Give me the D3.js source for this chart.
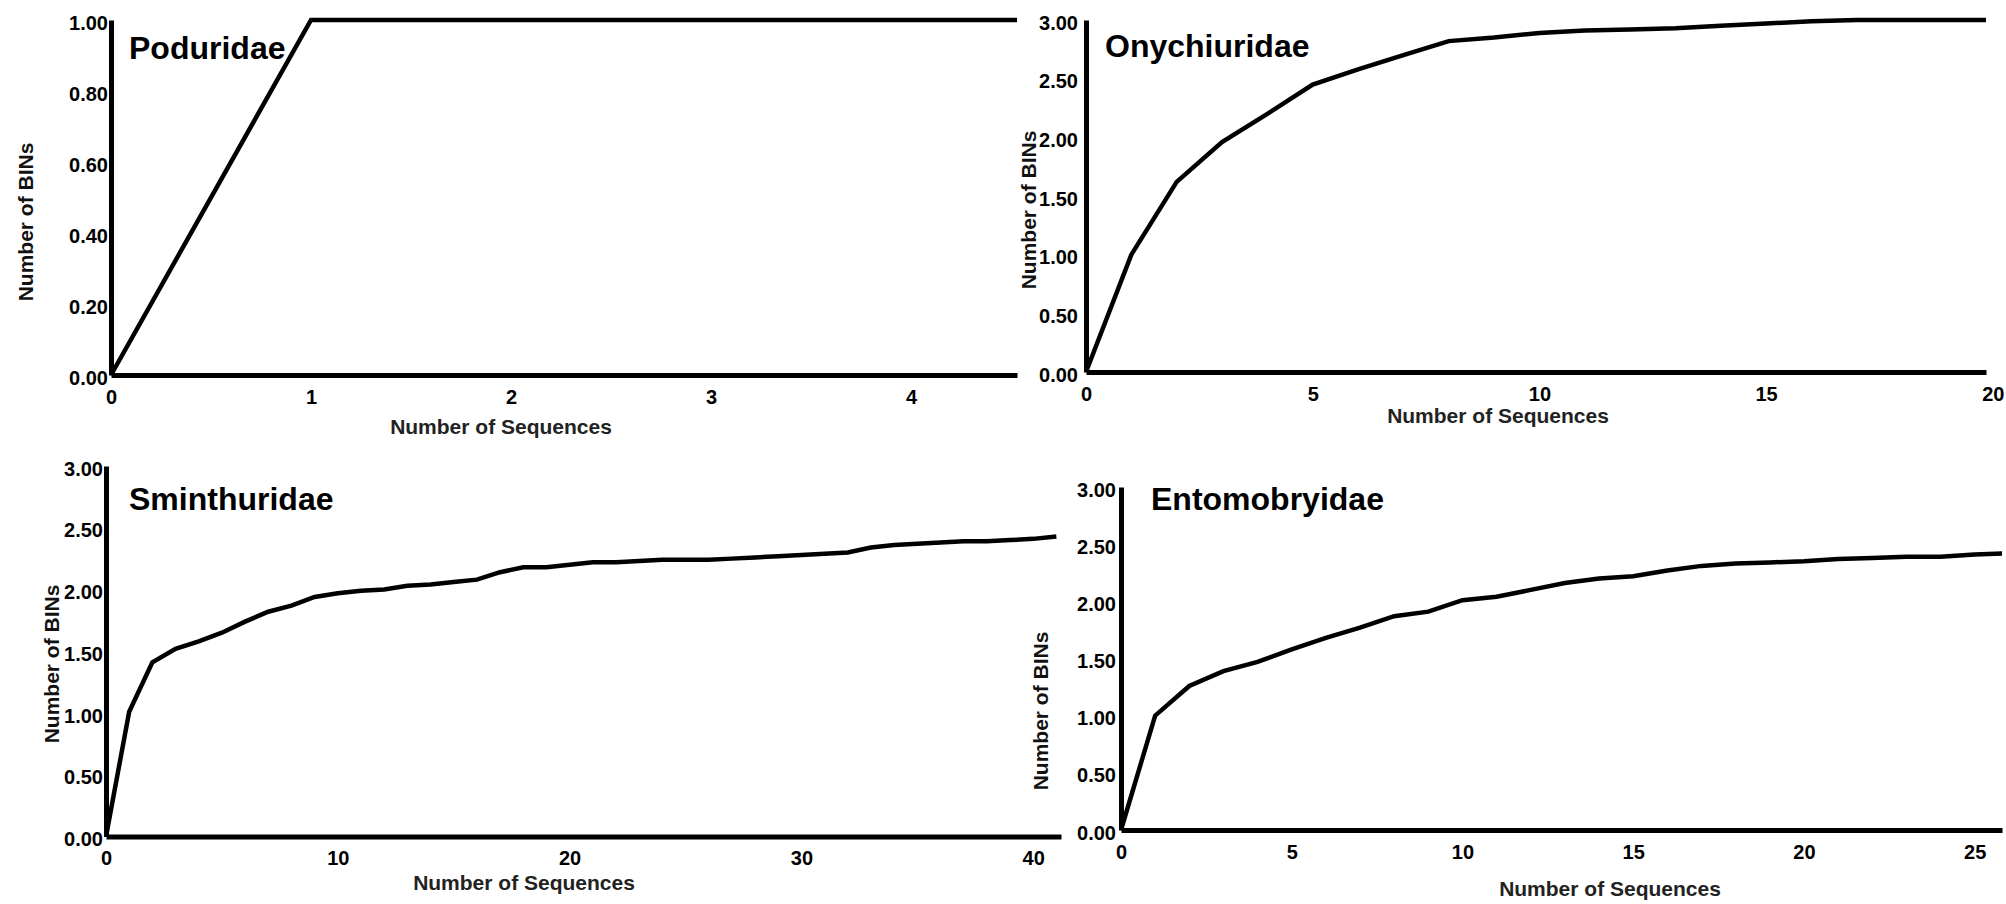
<!DOCTYPE html>
<html>
<head>
<meta charset="utf-8">
<script src="https://cdn.jsdelivr.net/npm/d3@7"></script>
<style>
  html, body { margin: 0; padding: 0; background: #fff; }
  svg { display: block; font-family: "Liberation Sans", Arial, Helvetica, sans-serif; }
</style>
</head>
<body>
<svg id="chart" width="2006" height="904"></svg>
<script>
// Rarefaction curves: number of BINs against number of sequences, per family.
const families = ["Poduridae", "Onychiuridae", "Sminthuridae", "Entomobryidae"];

const poduridaeSeqs = [0, 1, 2, 3, 4, 5];
const poduridaeBins = [0, 1.00, 1.00, 1.00, 1.00, 1.00];

const onychiuridaeSeqs = [0, 1, 2, 3, 4, 5, 6, 7, 8, 9, 10, 11, 12, 13, 14, 15, 16, 17, 18, 19, 20];
const onychiuridaeBins = [0, 1.00, 1.62, 1.96, 2.20, 2.45, 2.58, 2.70, 2.82, 2.85, 2.89, 2.91, 2.92, 2.93,
                          2.95, 2.97, 2.99, 3.00, 3.00, 3.00, 3.00];

const sminthuridaeSeqs = [0, 1, 2, 3, 4, 5, 6, 7, 8, 9, 10, 11, 12, 13, 14, 15, 16, 17, 18, 19, 20,
                          21, 22, 23, 24, 25, 26, 27, 28, 29, 30, 31, 32, 33, 34, 35, 36, 37, 38, 39, 40, 41];
const sminthuridaeBins = [0, 1.01, 1.41, 1.52, 1.58, 1.65, 1.74, 1.82, 1.87, 1.94, 1.97, 1.99, 2.00, 2.03,
                          2.04, 2.06, 2.08, 2.14, 2.18, 2.18, 2.20, 2.22, 2.22, 2.23, 2.24, 2.24, 2.24, 2.25,
                          2.26, 2.27, 2.28, 2.29, 2.30, 2.34, 2.36, 2.37, 2.38, 2.39, 2.39, 2.40, 2.41, 2.43];

const entomobryidaeSeqs = [0, 1, 2, 3, 4, 5, 6, 7, 8, 9, 10, 11, 12, 13, 14, 15, 16, 17, 18, 19, 20,
                           21, 22, 23, 24, 25, 26];
const entomobryidaeBins = [0, 1.00, 1.26, 1.39, 1.47, 1.58, 1.68, 1.77, 1.87, 1.91, 2.01, 2.04, 2.10, 2.16,
                           2.20, 2.22, 2.27, 2.31, 2.33, 2.34, 2.35, 2.37, 2.38, 2.39, 2.39, 2.41, 2.42];

// Axis extents and tick values
const xMaxes = [4.53, 19.85, 41.2, 25.8];
const yMaxes = [1, 3, 3, 3];
const xTickValues = [
  [0, 1, 2, 3, 4],
  [0, 5, 10, 15, 20],
  [0, 10, 20, 30, 40],
  [0, 5, 10, 15, 20, 25]
];
const yTickValues = [
  [0, 0.2, 0.4, 0.6, 0.8, 1.0],
  [0, 0.5, 1.0, 1.5, 2.0, 2.5, 3.0],
  [0, 0.5, 1.0, 1.5, 2.0, 2.5, 3.0],
  [0, 0.5, 1.0, 1.5, 2.0, 2.5, 3.0]
];
const xAxisTitle = "Number of Sequences";
const yAxisTitle = "Number of BINs";

const seqSeries = [poduridaeSeqs, onychiuridaeSeqs, sminthuridaeSeqs, entomobryidaeSeqs];
const binSeries = [poduridaeBins, onychiuridaeBins, sminthuridaeBins, entomobryidaeBins];

// Panel placement on the page
const layout = [
  { left: 111,  right: 1017, top: 20,  bottom: 375,   yPad: 3, title: [129, 59],   yLab: [25, 222],   xLab: [501, 434] },
  { left: 1086, right: 1986, top: 20,  bottom: 372,   yPad: 8, title: [1105, 57],  yLab: [1028, 210], xLab: [1498, 423] },
  { left: 106,  right: 1061, top: 466, bottom: 836.5, yPad: 3, title: [129, 510],  yLab: [51.5, 664], xLab: [524, 890] },
  { left: 1121, right: 2002, top: 487, bottom: 830,   yPad: 5, title: [1151, 510], yLab: [1040, 711], xLab: [1610, 896] }
];

const svg = d3.select("#chart");
const fmt = d3.format(".2f");

families.forEach((name, i) => {
  const L = layout[i];
  const x = d3.scaleLinear().domain([0, xMaxes[i]]).range([L.left, L.right]);
  const y = d3.scaleLinear().domain([0, yMaxes[i]]).range([L.bottom, L.top]);
  const g = svg.append("g").attr("class", "panel");

  // keep the curve inside the horizontal extent of the axis
  const clipId = "clip" + i;
  svg.append("clipPath").attr("id", clipId)
    .append("rect")
    .attr("x", L.left - 20).attr("y", L.top - 20)
    .attr("width", L.right - L.left + 20).attr("height", L.bottom - L.top + 40);

  const points = seqSeries[i].map((s, k) => [s, binSeries[i][k]]);
  const line = d3.line().x(d => x(d[0])).y(d => y(d[1]));
  g.append("path")
    .datum(points)
    .attr("clip-path", `url(#${clipId})`)
    .attr("d", line)
    .attr("fill", "none")
    .attr("stroke", "#000")
    .attr("stroke-width", 4.5)
    .attr("stroke-linejoin", "miter");

  // x axis
  const xAxis = g.append("g")
    .attr("transform", `translate(0,${L.bottom})`)
    .call(d3.axisBottom(x).tickValues(xTickValues[i]).tickSize(0).tickSizeOuter(0).tickPadding(14.5).tickFormat(d3.format("d")));
  xAxis.select(".domain").attr("stroke", "#000").attr("stroke-width", 5);
  xAxis.selectAll("text")
    .attr("font-size", 20).attr("font-weight", "bold").attr("fill", "#000")
    .attr("font-family", "'Liberation Sans', Arial, sans-serif");

  // y axis
  const yAxis = g.append("g")
    .attr("transform", `translate(${L.left},0)`)
    .call(d3.axisLeft(y).tickValues(yTickValues[i]).tickSize(0).tickSizeOuter(0).tickPadding(L.yPad).tickFormat(fmt));
  yAxis.select(".domain").attr("stroke", "#000").attr("stroke-width", 5);
  yAxis.selectAll("text")
    .attr("font-size", 20).attr("font-weight", "bold").attr("fill", "#000")
    .attr("dy", "0.45em")
    .attr("font-family", "'Liberation Sans', Arial, sans-serif");

  // family title
  g.append("text")
    .attr("x", L.title[0]).attr("y", L.title[1])
    .attr("font-size", 32).attr("font-weight", "bold").attr("fill", "#000")
    .text(name);

  // axis titles
  g.append("text")
    .attr("x", L.xLab[0]).attr("y", L.xLab[1])
    .attr("text-anchor", "middle")
    .attr("font-size", 21).attr("font-weight", "bold").attr("fill", "#222")
    .text(xAxisTitle);

  g.append("text")
    .attr("transform", `translate(${L.yLab[0]},${L.yLab[1]}) rotate(-90)`)
    .attr("text-anchor", "middle")
    .attr("dy", "0.36em")
    .attr("font-size", 21).attr("font-weight", "bold").attr("fill", "#111")
    .text(yAxisTitle);
});
</script>
</body>
</html>
